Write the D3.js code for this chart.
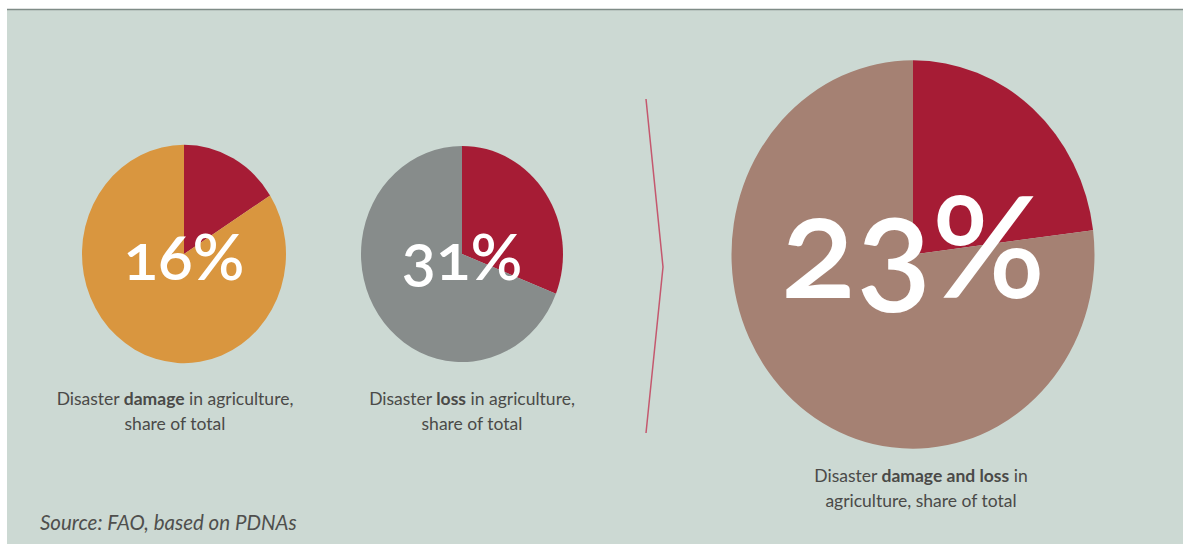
<!DOCTYPE html>
<html><head><meta charset="utf-8">
<script src="https://cdn.jsdelivr.net/npm/d3@7"></script>
<style>body{margin:0;background:#fff;}svg{display:block;}</style>
</head><body>
<svg id="c" width="1183" height="544"></svg>
<script>
const charts = ["damage", "loss", "both"];
const shares = [16, 31, 23];
const percentLabels = ["16%", "31%", "23%"];
const captionPre = ["Disaster ", "Disaster ", "Disaster "];
const captionBold = ["damage", "loss", "damage and loss"];
const captionLine1Post = [" in agriculture,", " in agriculture,", " in"];
const captionLine2 = ["share of total", "share of total", "agriculture, share of total"];
const restColors = ["#d9963f", "#878c8b", "#a58173"];
const shareColor = "#a61c35";
const source = "Source: FAO, based on PDNAs";

const layout = [
  {cx:184, cy:254, r:102, fs:64, ty:280, lx:175, ly:405},
  {cx:462, cy:254, r:101, fs:64, ty:280, lx:472, ly:405},
  {cx:913, cy:254.5, r:181.5, fs:140, ty:298, lx:921, ly:482}
];
const yStretch = 1.07;

const svg = d3.select("#c");
svg.append("rect").attr("x",7).attr("y",10).attr("width",1176).attr("height",534).attr("fill","#ccd9d3");
svg.append("line").attr("x1",7).attr("x2",1183).attr("y1",9.5).attr("y2",9.5).attr("stroke","#7f8c87").attr("stroke-width",1.5);

const pie = d3.pie().sort(null).value(d=>d);
const arc = d3.arc().innerRadius(0);

charts.forEach((c,i)=>{
  const L = layout[i];
  const g = svg.append("g").attr("transform",`translate(${L.cx},${L.cy}) scale(1,${yStretch})`);
  const data = pie([shares[i], 100-shares[i]]);
  g.selectAll("path").data(data).join("path")
    .attr("d", d=>arc.outerRadius(L.r)(d))
    .attr("fill",(d,j)=> j===0 ? shareColor : restColors[i]);
  svg.append("text").attr("x",L.cx).attr("y",L.ty)
    .attr("text-anchor","middle").attr("fill","#fff")
    .attr("font-family","Lato, 'Open Sans', sans-serif").attr("font-weight",600)
    .attr("font-size",L.fs).style("font-feature-settings","'onum' 1")
    .text(percentLabels[i]);
  const t = svg.append("text").attr("text-anchor","middle")
    .attr("font-family","Lato, 'Open Sans', sans-serif").attr("font-size",17.5).attr("fill","#4a4a48");
  const l1 = t.append("tspan").attr("x",L.lx).attr("y",L.ly);
  l1.append("tspan").text(captionPre[i]);
  l1.append("tspan").attr("font-weight",700).text(captionBold[i]);
  l1.append("tspan").text(captionLine1Post[i]);
  t.append("tspan").attr("x",L.lx).attr("y",L.ly+25).text(captionLine2[i]);
});

// chevron divider
svg.append("path")
  .attr("d", d3.line()([[646,99],[663,267],[646,433]]))
  .attr("fill","none").attr("stroke","#c4586e").attr("stroke-width",1.5);

svg.append("text").attr("x",40).attr("y",530)
  .attr("font-family","Lato, 'Open Sans', sans-serif").attr("font-style","italic")
  .attr("font-size",20.5).attr("fill","#4f4f4d").text(source);
</script>
</body></html>
